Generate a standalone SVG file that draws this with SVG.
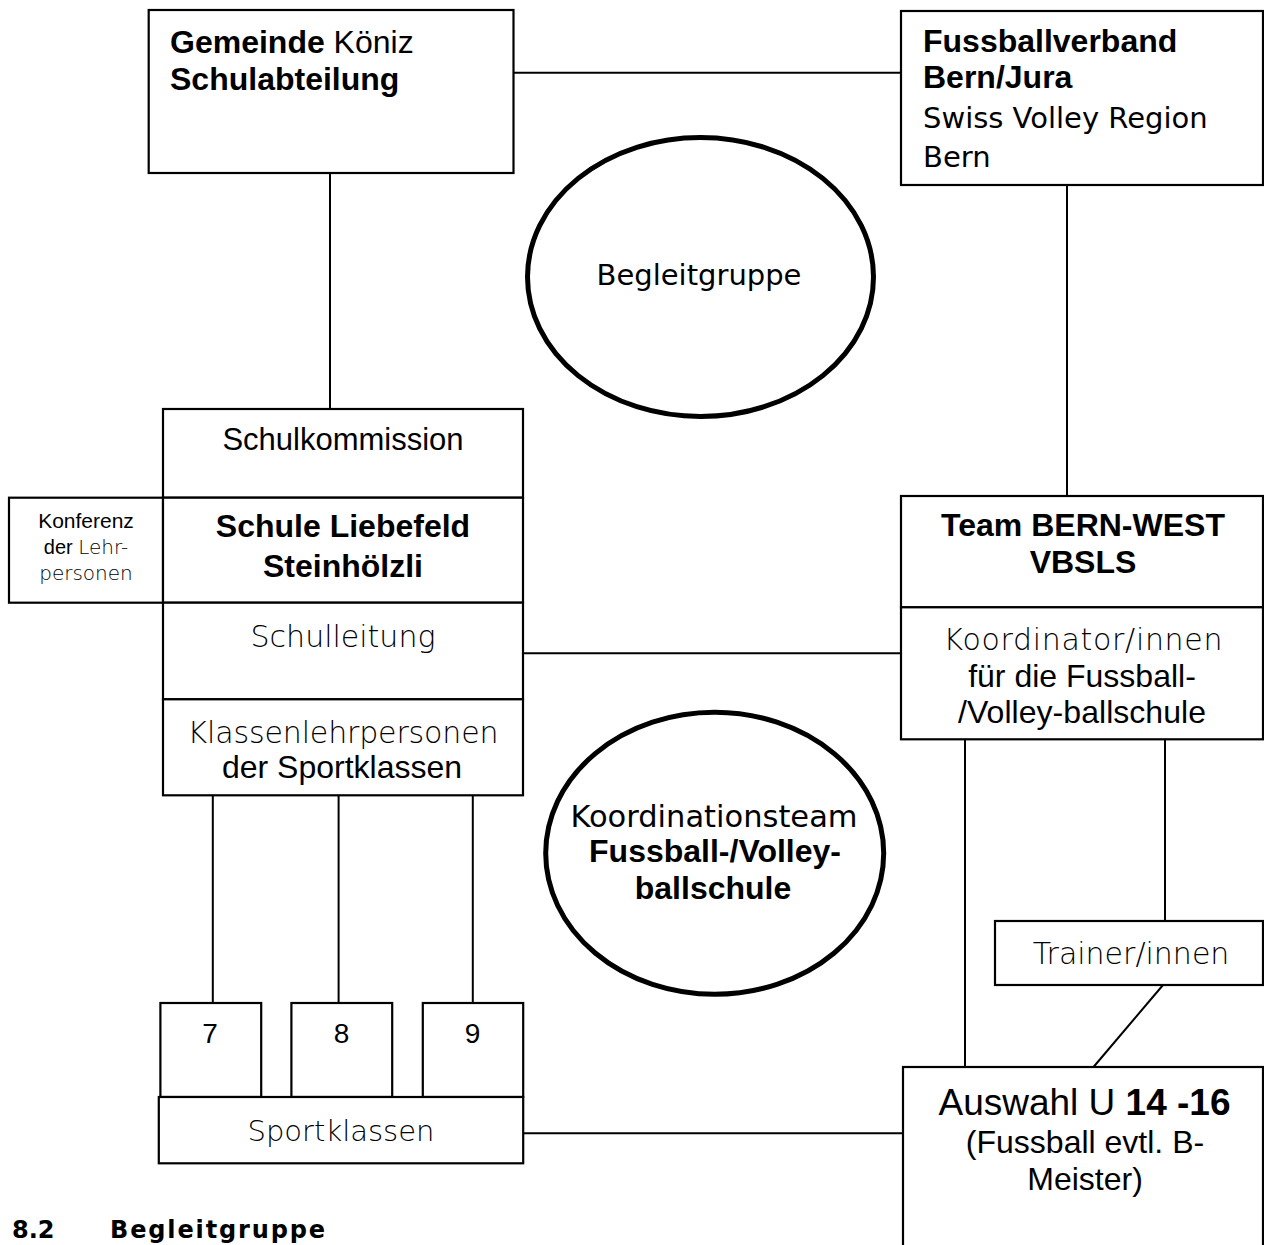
<svg xmlns="http://www.w3.org/2000/svg" width="1264" height="1245" viewBox="0 0 1264 1245">
<style>
.box{fill:#fff;stroke:#000;stroke-width:2.2}
.ell{fill:#fff;stroke:#000;stroke-width:5}
.con{stroke:#000;stroke-width:2;fill:none}
.b{font-family:"Liberation Sans",Arial,sans-serif;font-weight:bold;font-size:32px;fill:#000}
.r{font-family:"Liberation Sans",Arial,sans-serif;font-weight:normal;font-size:32px;fill:#000}
.l{font-family:"DejaVu Sans",sans-serif;font-weight:200;font-size:30px;fill:#000}
.g{font-family:"DejaVu Sans",sans-serif;font-weight:normal;font-size:29px;fill:#000}
.h{font-family:"DejaVu Sans",sans-serif;font-weight:bold;font-size:24px;fill:#000}
.m{text-anchor:middle}
</style>
<rect width="1264" height="1245" fill="#fff"/>
<g id="connectors">
<line class="con" x1="513" y1="72.7" x2="901" y2="72.7"/>
<line class="con" x1="330" y1="173" x2="330" y2="409"/>
<line class="con" x1="1067" y1="185" x2="1067" y2="496"/>
<line class="con" x1="523" y1="653.3" x2="901" y2="653.3"/>
<line class="con" x1="212.8" y1="795" x2="212.8" y2="1003"/>
<line class="con" x1="338.6" y1="795" x2="338.6" y2="1003"/>
<line class="con" x1="472.8" y1="795" x2="472.8" y2="1003"/>
<line class="con" x1="965" y1="739" x2="965" y2="1067"/>
<line class="con" x1="1165" y1="739" x2="1165" y2="921"/>
<line class="con" x1="1163" y1="985" x2="1093.5" y2="1067"/>
<line class="con" x1="523" y1="1133.3" x2="903" y2="1133.3"/>
</g>
<g id="gemeinde">
<rect class="box" x="148.7" y="10" width="364.8" height="163"/>
<text class="b" x="170" y="53">Gemeinde <tspan class="r">Köniz</tspan></text>
<text class="b" x="170" y="90">Schulabteilung</text>
</g>
<g id="fussballverband">
<rect class="box" x="901" y="11" width="362" height="174"/>
<text class="b" x="923" y="52">Fussballverband</text>
<text class="b" x="923" y="88">Bern/Jura</text>
<text class="g" x="923" y="128">Swiss Volley Region</text>
<text class="g" x="923" y="167">Bern</text>
</g>
<g id="begleitgruppe">
<ellipse class="ell" cx="700.5" cy="277" rx="173" ry="139.5"/>
<text class="g m" x="699" y="285" style="font-size:29px">Begleitgruppe</text>
</g>
<g id="schulkommission">
<rect class="box" x="163" y="409" width="360" height="88.7"/>
<text class="r m" x="343" y="450" style="font-size:31px">Schulkommission</text>
</g>
<g id="konferenz">
<rect class="box" x="9" y="497.7" width="154" height="105"/>
<text class="r m" x="86" y="528" style="font-size:21px">Konferenz</text>
<text class="r m" x="86" y="554" style="font-size:20px">der <tspan class="l" style="font-size:20px">Lehr-</tspan></text>
<text class="l m" x="86" y="580" style="font-size:20px">personen</text>
</g>
<g id="schule">
<rect class="box" x="163" y="497.7" width="360" height="105"/>
<text class="b m" x="343" y="537">Schule Liebefeld</text>
<text class="b m" x="343" y="577">Steinhölzli</text>
</g>
<g id="schulleitung">
<rect class="box" x="163" y="602.7" width="360" height="96.6"/>
<text class="l m" x="343" y="647">Schulleitung</text>
</g>
<g id="klassenlehrpersonen">
<rect class="box" x="163" y="699.3" width="360" height="96"/>
<text class="l m" x="343" y="743" textLength="311">Klassenlehrpersonen</text>
<text class="r m" x="342" y="778">der Sportklassen</text>
</g>
<g id="team">
<rect class="box" x="901" y="496" width="362" height="111.3"/>
<text class="b m" x="1083" y="536">Team BERN-WEST</text>
<text class="b m" x="1083" y="573">VBSLS</text>
</g>
<g id="koordinator">
<rect class="box" x="901" y="607.3" width="362" height="132"/>
<text class="l m" x="1083" y="650" textLength="279">Koordinator/innen</text>
<text class="r m" x="1082" y="687">für die Fussball-</text>
<text class="r m" x="1082" y="723" textLength="248">/Volley-ballschule</text>
</g>
<g id="koordinationsteam">
<ellipse class="ell" cx="714.7" cy="853.3" rx="169" ry="141"/>
<text class="g m" x="714" y="827" style="font-size:30.5px">Koordinationsteam</text>
<text class="b m" x="715" y="862">Fussball-/Volley-</text>
<text class="b m" x="713" y="899">ballschule</text>
</g>
<g id="trainer">
<rect class="box" x="995" y="921" width="268" height="64"/>
<text class="l m" x="1131" y="964">Trainer/innen</text>
</g>
<g id="klasse7">
<rect class="box" x="160.4" y="1003" width="100.8" height="94"/>
<text class="r m" x="210" y="1043" style="font-size:28px">7</text>
</g>
<g id="klasse8">
<rect class="box" x="291.4" y="1003" width="100.8" height="94"/>
<text class="r m" x="341.5" y="1043" style="font-size:28px">8</text>
</g>
<g id="klasse9">
<rect class="box" x="422.8" y="1003" width="100.4" height="94"/>
<text class="r m" x="472.5" y="1043" style="font-size:28px">9</text>
</g>
<g id="sportklassen">
<rect class="box" x="158.8" y="1097" width="364.4" height="66.3"/>
<text class="l m" x="341" y="1141" style="font-size:29px">Sportklassen</text>
</g>
<g id="auswahl">
<rect class="box" x="903" y="1067" width="360" height="200"/>
<text class="r m" x="1084.5" y="1115" style="font-size:37px">Auswahl U <tspan style="font-weight:bold">14 -16</tspan></text>
<text class="r m" x="1085" y="1153">(Fussball evtl. B-</text>
<text class="r m" x="1085" y="1190">Meister)</text>
</g>
<g id="heading">
<text class="h" x="12" y="1238">8.2</text>
<text class="h" x="110" y="1238" textLength="215">Begleitgruppe</text>
</g>
</svg>
